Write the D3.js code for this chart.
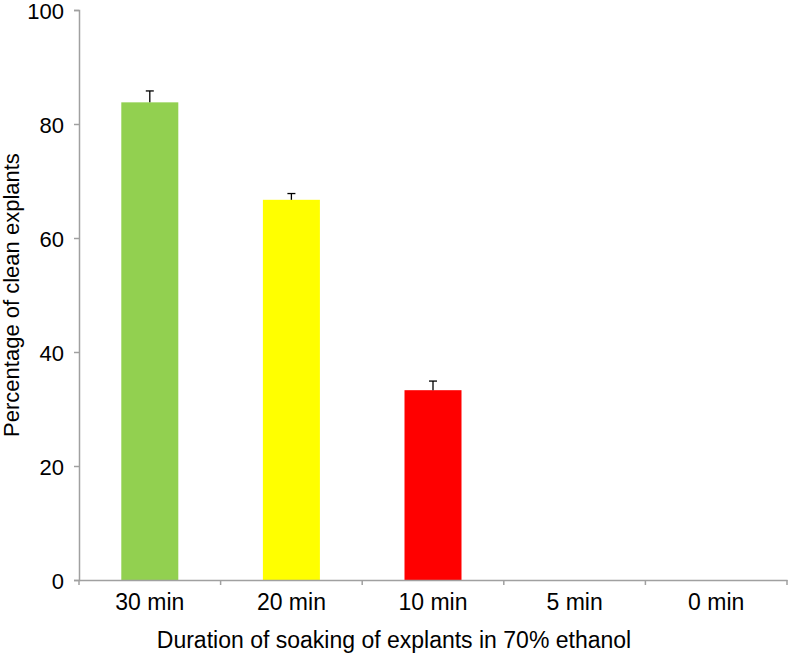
<!DOCTYPE html>
<html>
<head>
<meta charset="utf-8">
<script src="https://cdn.jsdelivr.net/npm/d3@7"></script>
<style>
  html, body { margin: 0; padding: 0; background: #fff; }
  svg { display: block; }
  text { font-family: "Liberation Sans", Arial, sans-serif; fill: #000; }
</style>
</head>
<body>
<svg id="chart" width="788" height="655"></svg>
<script>
const categories = ["30 min", "20 min", "10 min", "5 min", "0 min"];
const values = [83.8, 66.7, 33.3, 0, 0];
const errors = [2.0, 1.1, 1.6, 0, 0];
const colors = ["#92d050", "#ffff00", "#ff0000", "#92d050", "#92d050"];
const yTicks = [0, 20, 40, 60, 80, 100];
const xTitle = "Duration of soaking of explants in 70% ethanol";
const yTitle = "Percentage of clean explants";

const svg = d3.select("#chart");
const margin = { left: 79, top: 10 };
const W = 788;
const plotBottom = 580;

const xOuter = d3.scaleBand().domain(categories).range([margin.left, 787]);
const y = d3.scaleLinear().domain([0, 100]).range([plotBottom, margin.top]);

// bars
const data = categories.map((c, i) => ({ c, v: values[i], e: errors[i], col: colors[i] }));
svg.append("g").selectAll("rect").data(data.filter(d => d.v > 0)).join("rect")
  .attr("x", d => xOuter(d.c) + xOuter.bandwidth() / 2 - 28.5)
  .attr("width", 57)
  .attr("y", d => y(d.v))
  .attr("height", d => y(0) - y(d.v))
  .attr("fill", d => d.col);

// error bars
const eg = svg.append("g").attr("stroke", "#000").attr("stroke-width", 1.3);
data.filter(d => d.e > 0).forEach(d => {
  const cx = xOuter(d.c) + xOuter.bandwidth() / 2;
  eg.append("line").attr("x1", cx).attr("x2", cx).attr("y1", y(d.v)).attr("y2", y(d.v + d.e));
  eg.append("line").attr("x1", cx - 4).attr("x2", cx + 4).attr("y1", y(d.v + d.e)).attr("y2", y(d.v + d.e));
});

// y axis
const yAxis = svg.append("g").attr("transform", `translate(${margin.left},0)`)
  .call(d3.axisLeft(y).tickValues(yTicks).tickSize(5).tickPadding(10).tickFormat(d3.format("d")));
yAxis.select(".domain").attr("stroke", "#a0a0a0").attr("stroke-width", 1.5);
yAxis.selectAll(".tick line").attr("stroke", "#a0a0a0").attr("stroke-width", 1.5);
yAxis.selectAll("text").style("font-size", "22px").attr("fill", "#000").attr("dy", "0.37em");

// x axis
const xAxis = svg.append("g").attr("transform", `translate(0,${plotBottom})`)
  .call(d3.axisBottom(xOuter).tickSize(0).tickPadding(14));
xAxis.select(".domain").attr("stroke", "#a0a0a0").attr("stroke-width", 1.5);
xAxis.selectAll("text").style("font-size", "23px").attr("fill", "#000");
const bounds = categories.map(c => xOuter(c)).concat([xOuter(categories[categories.length - 1]) + xOuter.bandwidth()]);
xAxis.append("g").selectAll("line").data(bounds).join("line")
  .attr("x1", d => d).attr("x2", d => d).attr("y1", 0).attr("y2", 5)
  .attr("stroke", "#a0a0a0").attr("stroke-width", 1.5);

// titles
svg.append("text").attr("x", W / 2).attr("y", 648).attr("text-anchor", "middle")
  .style("font-size", "23px").text(xTitle);
svg.append("text").attr("transform", `translate(19,${(plotBottom + margin.top) / 2}) rotate(-90)`)
  .attr("text-anchor", "middle").style("font-size", "22px").text(yTitle);
</script>
</body>
</html>
